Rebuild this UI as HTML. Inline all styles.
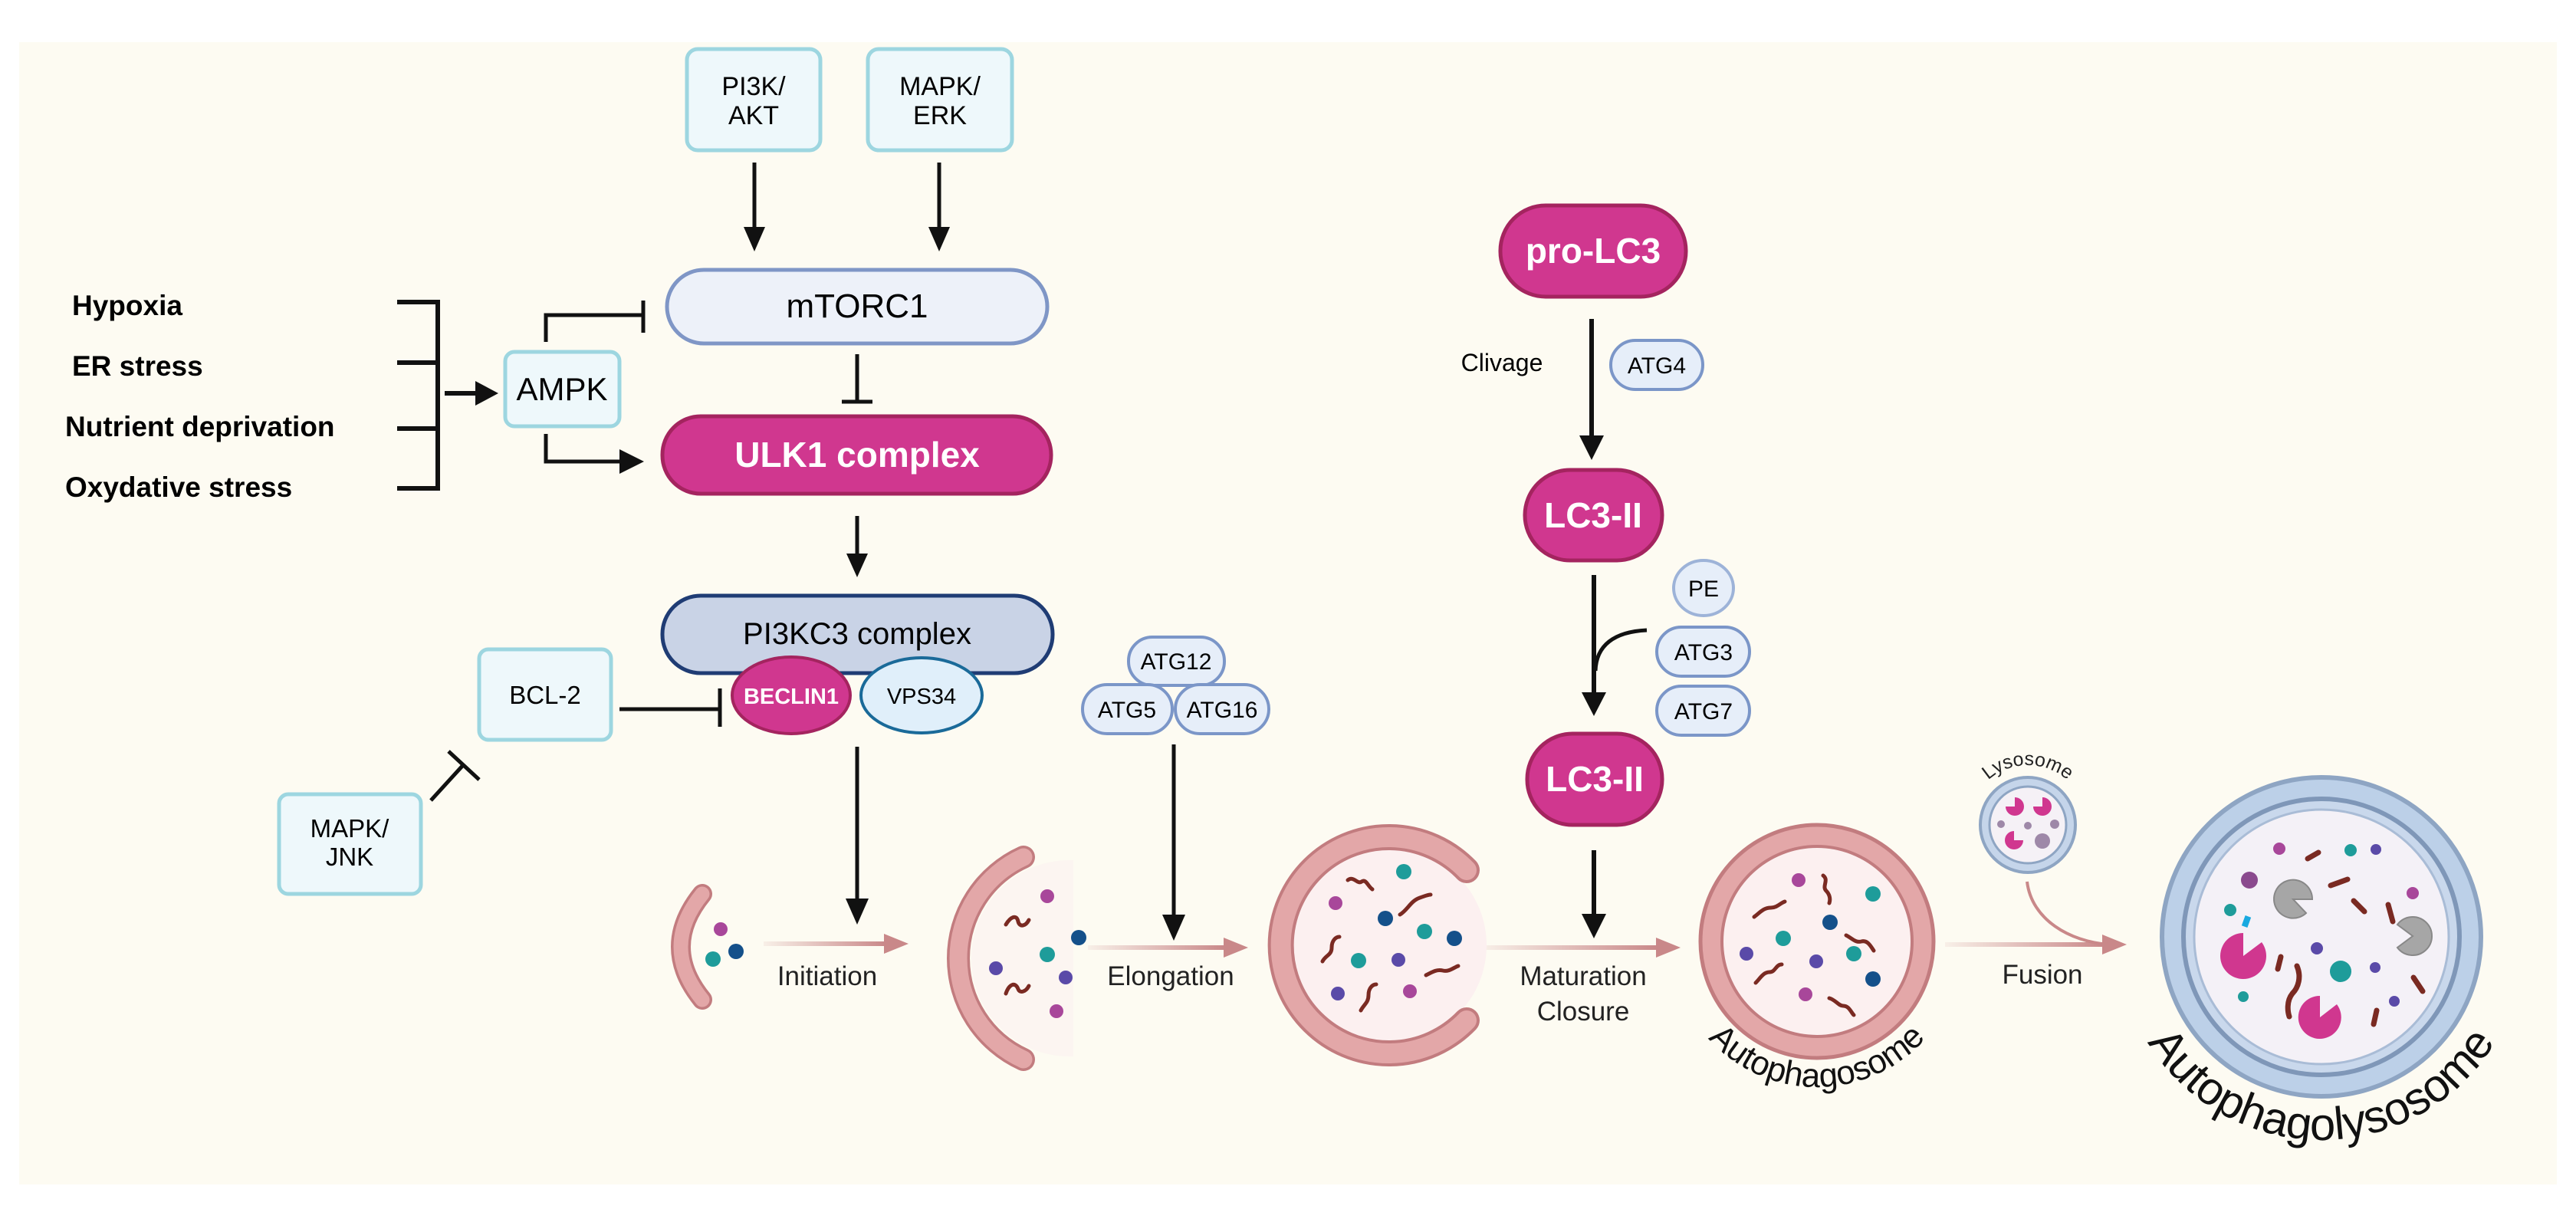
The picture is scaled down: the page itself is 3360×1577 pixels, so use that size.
<!DOCTYPE html>
<html><head><meta charset="utf-8"><style>
html,body{margin:0;padding:0;background:#fff;}
svg{display:block;}
text{font-family:"Liberation Sans",Arial,sans-serif;}
</style></head><body>
<svg width="3360" height="1577" viewBox="0 0 3360 1577" xmlns="http://www.w3.org/2000/svg">
<defs>
<linearGradient id="pg" x1="0" x2="1" y1="0" y2="0">
<stop offset="0" stop-color="#c98889" stop-opacity="0.1"/><stop offset="1" stop-color="#c98889"/>
</linearGradient>
<clipPath id="p2clip"><rect x="1240" y="1100" width="160" height="300"/></clipPath>
</defs>
<rect x="0" y="0" width="3360" height="1577" fill="#ffffff"/>
<rect x="25" y="55" width="3310" height="1490" fill="#fdfbf2"/>

<!-- top boxes -->
<rect x="896" y="64" width="174" height="132" rx="14" fill="#eef8fb" stroke="#9dd6e0" stroke-width="5"/>
<text x="983" y="124" font-size="34" text-anchor="middle">PI3K/</text>
<text x="983" y="162" font-size="34" text-anchor="middle">AKT</text>
<rect x="1132" y="64" width="188" height="132" rx="14" fill="#eef8fb" stroke="#9dd6e0" stroke-width="5"/>
<text x="1226" y="124" font-size="34" text-anchor="middle">MAPK/</text>
<text x="1226" y="162" font-size="34" text-anchor="middle">ERK</text>
<g stroke="#111" stroke-width="5">
<line x1="984" y1="212" x2="984" y2="300"/><line x1="1225" y1="212" x2="1225" y2="300"/>
</g>
<path d="M970,296 L998,296 L984,328 z" fill="#111"/>
<path d="M1211,296 L1239,296 L1225,328 z" fill="#111"/>

<!-- mTORC1 -->
<rect x="870" y="352" width="496" height="96" rx="48" fill="#edf1f9" stroke="#7f96c6" stroke-width="5"/>
<text x="1118" y="414" font-size="44" text-anchor="middle">mTORC1</text>
<g stroke="#111" stroke-width="5" fill="none">
<line x1="1118" y1="462" x2="1118" y2="524"/><line x1="1098" y1="524" x2="1138" y2="524"/>
</g>
<!-- ULK1 -->
<rect x="864" y="543" width="507" height="101" rx="50" fill="#d0378f" stroke="#a4245f" stroke-width="5"/>
<text x="1118" y="609" font-size="46" font-weight="bold" fill="#fff" text-anchor="middle">ULK1 complex</text>
<line x1="1118" y1="673" x2="1118" y2="725" stroke="#111" stroke-width="5"/>
<path d="M1104,722 L1132,722 L1118,753 z" fill="#111"/>

<!-- left labels -->
<g font-size="37" font-weight="bold">
<text x="94" y="411">Hypoxia</text>
<text x="94" y="490">ER stress</text>
<text x="85" y="569">Nutrient deprivation</text>
<text x="85" y="648">Oxydative stress</text>
</g>
<g stroke="#111" stroke-width="6" fill="none">
<path d="M518,394 H571 V637 H518"/><line x1="518" y1="473" x2="571" y2="473"/><line x1="518" y1="559" x2="571" y2="559"/>
<line x1="580" y1="513" x2="625" y2="513"/>
</g>
<path d="M620,497 L650,513 L620,529 z" fill="#111"/>
<rect x="659" y="459" width="149" height="97" rx="12" fill="#eef8fb" stroke="#9dd6e0" stroke-width="5"/>
<text x="733" y="522" font-size="42" text-anchor="middle">AMPK</text>
<g stroke="#111" stroke-width="5" fill="none">
<path d="M712,446 V411 H839"/><line x1="839" y1="392" x2="839" y2="434"/>
<path d="M712,566 V602 H812"/>
</g>
<path d="M808,586 L840,602 L808,618 z" fill="#111"/>

<!-- PI3KC3 -->
<rect x="864" y="777" width="509" height="101" rx="50" fill="#c9d3e6" stroke="#1f3c74" stroke-width="5"/>
<text x="1118" y="840" font-size="40" text-anchor="middle">PI3KC3  complex</text>
<ellipse cx="1032" cy="907" rx="77" ry="50" fill="#d0378f" stroke="#a4245f" stroke-width="4"/>
<text x="1032" y="918" font-size="29" font-weight="bold" fill="#fff" text-anchor="middle">BECLIN1</text>
<ellipse cx="1202" cy="907" rx="79" ry="49" fill="#e0effa" stroke="#1a6a99" stroke-width="4"/>
<text x="1202" y="918" font-size="29" text-anchor="middle">VPS34</text>

<rect x="625" y="847" width="172" height="118" rx="12" fill="#eef8fb" stroke="#9dd6e0" stroke-width="5"/>
<text x="711" y="918" font-size="33" text-anchor="middle">BCL-2</text>
<g stroke="#111" stroke-width="5" fill="none">
<line x1="808" y1="925" x2="939" y2="925"/><line x1="939" y1="898" x2="939" y2="948"/>
<line x1="562" y1="1044" x2="605" y2="997"/><line x1="585" y1="980" x2="625" y2="1017"/>
</g>
<rect x="364" y="1036" width="185" height="130" rx="12" fill="#eef8fb" stroke="#9dd6e0" stroke-width="5"/>
<text x="456" y="1092" font-size="33" text-anchor="middle">MAPK/</text>
<text x="456" y="1129" font-size="33" text-anchor="middle">JNK</text>

<line x1="1118" y1="974" x2="1118" y2="1175" stroke="#111" stroke-width="5"/>
<path d="M1103,1172 L1133,1172 L1118,1206 z" fill="#111"/>

<!-- ATG complex -->
<g fill="#e6eef9" stroke="#7b96c8" stroke-width="4">
<rect x="1472" y="831" width="125" height="63" rx="31"/>
<rect x="1412" y="893" width="117" height="64" rx="32"/>
<rect x="1533" y="893" width="122" height="64" rx="32"/>
</g>
<g font-size="30" text-anchor="middle">
<text x="1534" y="873">ATG12</text><text x="1470" y="936">ATG5</text><text x="1594" y="936">ATG16</text>
</g>
<line x1="1531" y1="971" x2="1531" y2="1195" stroke="#111" stroke-width="5"/>
<path d="M1516,1193 L1546,1193 L1531,1227 z" fill="#111"/>

<!-- LC3 pathway -->
<rect x="1957" y="268" width="242" height="119" rx="59" fill="#d0378f" stroke="#a4245f" stroke-width="5"/>
<text x="2078" y="343" font-size="46" font-weight="bold" fill="#fff" text-anchor="middle">pro-LC3</text>
<text x="1959" y="484" font-size="32" text-anchor="middle">Clivage</text>
<rect x="2101" y="444" width="120" height="64" rx="32" fill="#e6eef9" stroke="#7b96c8" stroke-width="4"/>
<text x="2161" y="487" font-size="30" text-anchor="middle">ATG4</text>
<line x1="2076" y1="416" x2="2076" y2="570" stroke="#111" stroke-width="6"/>
<path d="M2060,568 L2092,568 L2076,600 z" fill="#111"/>
<rect x="1989" y="613" width="179" height="118" rx="59" fill="#d0378f" stroke="#a4245f" stroke-width="5"/>
<text x="2078" y="688" font-size="46" font-weight="bold" fill="#fff" text-anchor="middle">LC3-II</text>
<ellipse cx="2222" cy="767" rx="39" ry="36" fill="#e6eef9" stroke="#9db3d8" stroke-width="4"/>
<text x="2222" y="778" font-size="30" text-anchor="middle">PE</text>
<g fill="#e6eef9" stroke="#7b96c8" stroke-width="4">
<rect x="2161" y="818" width="121" height="64" rx="32"/><rect x="2161" y="895" width="121" height="64" rx="32"/>
</g>
<text x="2222" y="861" font-size="30" text-anchor="middle">ATG3</text>
<text x="2222" y="938" font-size="30" text-anchor="middle">ATG7</text>
<line x1="2079" y1="750" x2="2079" y2="905" stroke="#111" stroke-width="6"/>
<path d="M2148,822 C2105,824 2082,842 2081,875" stroke="#111" stroke-width="5" fill="none"/>
<path d="M2063,903 L2095,903 L2079,934 z" fill="#111"/>
<rect x="1992" y="957" width="176" height="119" rx="59" fill="#d0378f" stroke="#a4245f" stroke-width="5"/>
<text x="2080" y="1032" font-size="46" font-weight="bold" fill="#fff" text-anchor="middle">LC3-II</text>
<line x1="2079" y1="1109" x2="2079" y2="1193" stroke="#111" stroke-width="6"/>
<path d="M2063,1192 L2095,1192 L2079,1224 z" fill="#111"/>

<!-- phagophore 2 interior (clipped) -->
<circle cx="1395" cy="1250" r="128" fill="#fbf0f0" opacity="0.5" clip-path="url(#p2clip)"/>

<!-- pink process arrows -->
<g>
<rect x="996" y="1228" width="160" height="6" fill="url(#pg)"/><path d="M1153,1218 L1185,1231 L1153,1244 z" fill="#c98889"/>
<rect x="1419" y="1233" width="180" height="6" fill="url(#pg)"/><path d="M1596,1223 L1628,1236 L1596,1249 z" fill="#c98889"/>
<rect x="1935" y="1233" width="228" height="6" fill="url(#pg)"/><path d="M2160,1223 L2192,1236 L2160,1249 z" fill="#c98889"/>
<rect x="2537" y="1229" width="208" height="6" fill="url(#pg)"/><path d="M2742,1219 L2774,1232 L2742,1245 z" fill="#c98889"/>
</g>
<g font-size="35" text-anchor="middle" fill="#222">
<text x="1079" y="1285">Initiation</text>
<text x="1527" y="1285">Elongation</text>
<text x="2065" y="1285">Maturation</text>
<text x="2065" y="1331">Closure</text>
<text x="2664" y="1283">Fusion</text>
</g>

<!-- phagophore 1 -->
<path d="M916,1166 Q860,1235 916,1304" stroke="#c27c7f" stroke-width="26" fill="none" stroke-linecap="round"/>
<path d="M916,1166 Q860,1235 916,1304" stroke="#e3a7a8" stroke-width="19" fill="none" stroke-linecap="round"/>
<circle cx="940" cy="1212" r="9" fill="#a8479a"/><circle cx="930" cy="1251" r="10" fill="#1e9c9a"/><circle cx="960" cy="1241" r="10" fill="#14508a"/>

<!-- phagophore 2 -->
<path d="M1335,1118 A145,145 0 0,0 1335,1382" stroke="#c27c7f" stroke-width="30" fill="none" stroke-linecap="round"/>
<path d="M1335,1118 A145,145 0 0,0 1335,1382" stroke="#e3a7a8" stroke-width="23" fill="none" stroke-linecap="round"/>
<g>
<circle cx="1366" cy="1169" r="9" fill="#a8479a"/><circle cx="1366" cy="1245" r="10" fill="#1e9c9a"/>
<circle cx="1407" cy="1223" r="10" fill="#14508a"/><circle cx="1299" cy="1263" r="9" fill="#5a4aa8"/>
<circle cx="1390" cy="1275" r="9" fill="#5a4aa8"/><circle cx="1378" cy="1319" r="9" fill="#a8479a"/>
</g>
<g stroke="#7a2a22" stroke-width="5" fill="none" stroke-linecap="round">
<path d="M1312,1206 c6,-10 14,-14 16,-4 c2,8 10,6 14,-2"/><path d="M1312,1296 c4,-12 12,-16 16,-6 c2,6 10,4 14,-4"/>
</g>

<!-- phagophore 3 -->
<circle cx="1812" cy="1233" r="127" fill="#fcf0f0"/>
<path d="M1913,1135 A141,141 0 1,0 1913,1331" stroke="#c27c7f" stroke-width="34" fill="none" stroke-linecap="round"/>
<path d="M1913,1135 A141,141 0 1,0 1913,1331" stroke="#e3a7a8" stroke-width="26" fill="none" stroke-linecap="round"/>
<g>
<circle cx="1831" cy="1137" r="10" fill="#1e9c9a"/><circle cx="1742" cy="1178" r="9" fill="#a8479a"/>
<circle cx="1807" cy="1198" r="10" fill="#14508a"/><circle cx="1858" cy="1215" r="10" fill="#1e9c9a"/>
<circle cx="1897" cy="1224" r="10" fill="#14508a"/><circle cx="1772" cy="1253" r="10" fill="#1e9c9a"/>
<circle cx="1824" cy="1252" r="9" fill="#5a4aa8"/><circle cx="1745" cy="1296" r="9" fill="#5a4aa8"/>
<circle cx="1839" cy="1293" r="9" fill="#a8479a"/>
</g>
<g stroke="#7a2a22" stroke-width="5" fill="none" stroke-linecap="round">
<path d="M1758,1148 c8,-6 12,6 18,2 c6,-4 8,6 14,10"/><path d="M1826,1193 c10,-6 14,-18 26,-22 c6,-2 10,-4 14,-4"/>
<path d="M1725,1254 c4,-8 12,-8 12,-18 c0,-10 6,-14 10,-14"/><path d="M1775,1318 c4,-8 10,-10 10,-20 c0,-10 6,-14 10,-14"/>
<path d="M1860,1272 c8,-4 14,-8 22,-6 c8,2 14,-4 20,-6"/>
</g>

<!-- autophagosome -->
<circle cx="2370" cy="1228" r="152" fill="#e3a7a8" stroke="#c27c7f" stroke-width="5"/>
<circle cx="2370" cy="1228" r="124" fill="#fcf0f0" stroke="#c27c7f" stroke-width="4"/>
<g>
<circle cx="2346" cy="1148" r="9" fill="#a8479a"/><circle cx="2443" cy="1166" r="10" fill="#1e9c9a"/>
<circle cx="2387" cy="1203" r="10" fill="#14508a"/><circle cx="2326" cy="1224" r="10" fill="#1e9c9a"/>
<circle cx="2278" cy="1244" r="9" fill="#5a4aa8"/><circle cx="2369" cy="1254" r="9" fill="#5a4aa8"/>
<circle cx="2418" cy="1244" r="10" fill="#1e9c9a"/><circle cx="2443" cy="1277" r="10" fill="#14508a"/>
<circle cx="2355" cy="1297" r="9" fill="#a8479a"/>
</g>
<g stroke="#7a2a22" stroke-width="5" fill="none" stroke-linecap="round">
<path d="M2378,1142 c8,6 -2,14 4,20 c4,4 6,10 4,16"/><path d="M2288,1196 c8,-6 12,-12 22,-12 c8,0 12,-6 18,-8"/>
<path d="M2408,1220 c8,4 12,10 20,8 c8,-2 12,6 16,12"/><path d="M2290,1282 c6,-6 10,-14 18,-14 c8,0 8,-10 16,-10"/>
<path d="M2386,1302 c8,2 12,10 18,10 c8,0 10,8 14,12"/>
</g>
<path id="apArc" d="M2180,1228 A190,190 0 0,0 2560,1228" fill="none"/>
<text font-size="44" fill="#111"><textPath href="#apArc" startOffset="50%" text-anchor="middle">Autophagosome</textPath></text>

<!-- lysosome -->
<path d="M2644,1150 C2650,1200 2700,1228 2750,1232" stroke="#c98889" stroke-width="4" fill="none"/>
<circle cx="2645" cy="1076" r="62" fill="#c5d5ea" stroke="#8ea5c3" stroke-width="4"/>
<circle cx="2645" cy="1076" r="50" fill="#f5f1f6" stroke="#8ea5c3" stroke-width="3"/>
<g fill="#d0378f">
<path d="M2628,1052 m-12,0 a12,12 0 1,0 12,-12 l0,12 z"/><path d="M2664,1052 m0,-12 a12,12 0 1,1 -12,12 l12,0 z"/>
<path d="M2627,1096 m0,-12 a12,12 0 1,0 12,12 l-12,0 z"/>
</g>
<g fill="#9e88a8"><circle cx="2664" cy="1097" r="10"/><circle cx="2610" cy="1075" r="5"/><circle cx="2645" cy="1077" r="5"/><circle cx="2680" cy="1075" r="6"/></g>
<path id="lyArc" d="M2567,1076 A78,78 0 0,1 2723,1076" fill="none"/>
<text font-size="25" fill="#222"><textPath href="#lyArc" startOffset="50%" text-anchor="middle">Lysosome</textPath></text>

<!-- autophagolysosome -->
<circle cx="3028" cy="1222" r="208" fill="#bcd0e8" stroke="#8ea5c3" stroke-width="6"/>
<circle cx="3028" cy="1222" r="180" fill="#c9d8ec" stroke="#7f97b8" stroke-width="6"/>
<circle cx="3028" cy="1222" r="166" fill="#f4f1f7" stroke="#a9bcd6" stroke-width="3"/>
<g fill="#d0378f">
<path d="M2926,1247 m0,-30 a30,30 0 1,0 24,12 l-24,18 z"/>
<path d="M3026,1327 m0,-28 a28,28 0 1,0 22,11 l-22,17 z"/>
</g>
<g fill="#a6a6a6" stroke="#888" stroke-width="2">
<path d="M2991,1173 m25,0 a25,25 0 1,0 -8,18 l-17,-18 z"/>
<path d="M3147,1221 m-20,-15 a25,25 0 1,1 0,30 l20,-15 z"/>
</g>
<g>
<circle cx="2934" cy="1148" r="11" fill="#8a4a8e"/><circle cx="2973" cy="1107" r="8" fill="#a8479a"/>
<circle cx="3066" cy="1109" r="8" fill="#1e9c9a"/><circle cx="3099" cy="1108" r="7" fill="#5a4aa8"/>
<circle cx="3147" cy="1165" r="8" fill="#a8479a"/><circle cx="2909" cy="1187" r="8" fill="#1e9c9a"/>
<circle cx="3022" cy="1237" r="8" fill="#5a4aa8"/><circle cx="3053" cy="1267" r="14" fill="#1e9c9a"/>
<circle cx="3098" cy="1262" r="7" fill="#5a4aa8"/><circle cx="2926" cy="1300" r="7" fill="#1e9c9a"/>
<circle cx="3123" cy="1306" r="7" fill="#5a4aa8"/>
<rect x="2926" y="1195" width="8" height="14" fill="#19a9e0" transform="rotate(20 2930 1202)"/>
</g>
<g stroke="#7a2a22" stroke-width="7" fill="none" stroke-linecap="round">
<path d="M3010,1120 l14,-8"/><path d="M3040,1155 l22,-8"/><path d="M3070,1175 l14,14"/>
<path d="M3115,1180 l6,22"/><path d="M2975,1248 l-4,16"/><path d="M2996,1260 c6,14 2,28 -6,36 c-8,10 -6,24 -4,30"/>
<path d="M3148,1275 l12,18"/><path d="M3100,1318 l-4,18"/>
</g>
<path id="alArc" d="M2763,1222 A265,265 0 0,0 3293,1222" fill="none"/>
<text font-size="60" fill="#111"><textPath href="#alArc" startOffset="50%" text-anchor="middle">Autophagolysosome</textPath></text>
</svg>
</body></html>
